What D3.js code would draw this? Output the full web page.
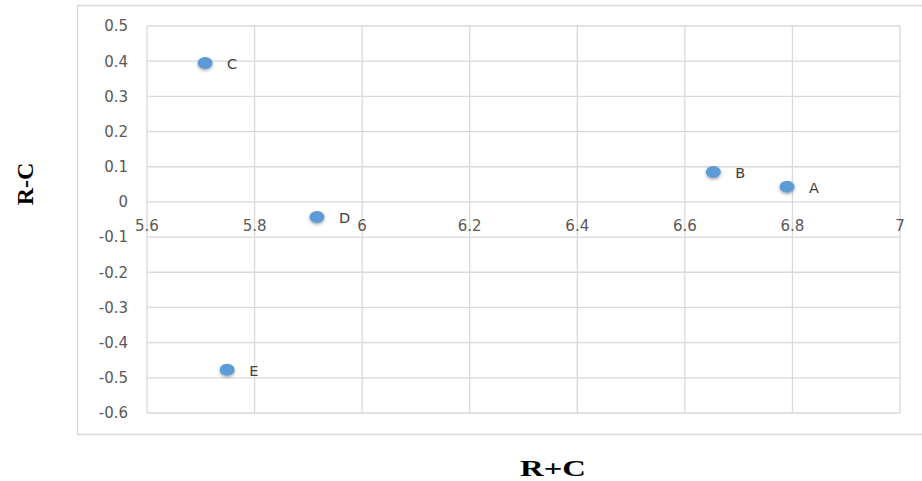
<!DOCTYPE html>
<html>
<head>
<meta charset="utf-8">
<script src="https://cdn.jsdelivr.net/npm/d3@7"></script>
<style>
  html, body { margin: 0; padding: 0; background: #fff; }
  svg { display: block; }
</style>
</head>
<body>
<svg id="chart"></svg>
<script>
const names = ['A', 'B', 'C', 'D', 'E'];
const rPlusC = [6.79, 6.653, 5.708, 5.916, 5.749];
const rMinusC = [0.043, 0.085, 0.395, -0.043, -0.477];
const xTicks = [5.6, 5.8, 6, 6.2, 6.4, 6.6, 6.8, 7];
const yTicks = [0.5, 0.4, 0.3, 0.2, 0.1, 0, -0.1, -0.2, -0.3, -0.4, -0.5, -0.6];

const W = 922, H = 481;
const svg = d3.select('#chart').attr('width', W).attr('height', H);

const x = d3.scaleLinear().domain([5.6, 7]).range([147, 900]);
const y = d3.scaleLinear().domain([-0.6, 0.5]).range([413, 26]);

const defs = svg.append('defs');
const shadow = defs.append('filter').attr('id', 'shadow')
  .attr('x', '-50%').attr('y', '-50%').attr('width', '200%').attr('height', '200%');
shadow.append('feDropShadow')
  .attr('dx', 0).attr('dy', 1.5).attr('stdDeviation', 1.6)
  .attr('flood-color', '#000').attr('flood-opacity', 0.35);

// chart frame
svg.append('rect')
  .attr('x', 77.5).attr('y', 5.5)
  .attr('width', 860).attr('height', 429)
  .attr('fill', 'none').attr('stroke', '#d9d9d9').attr('stroke-width', 1.5);

const grid = svg.append('g').attr('stroke', '#d9d9d9').attr('stroke-width', 1.3);
grid.selectAll('.vx').data(xTicks).enter().append('line')
  .attr('x1', d => x(d)).attr('x2', d => x(d))
  .attr('y1', y(0.5)).attr('y2', y(-0.6));
grid.selectAll('.hy').data(yTicks).enter().append('line')
  .attr('y1', d => y(d)).attr('y2', d => y(d))
  .attr('x1', x(5.6)).attr('x2', x(7));

// y tick labels
svg.append('g')
  .attr('font-family', 'DejaVu Sans, sans-serif')
  .attr('font-size', 15)
  .attr('fill', '#595959')
  .attr('text-anchor', 'end')
  .selectAll('text')
  .data(yTicks)
  .enter()
  .append('text')
  .attr('x', 128)
  .attr('y', d => y(d))
  .attr('dy', '0.36em')
  .text(d => String(d));

// x tick labels next to the zero line
svg.append('g')
  .attr('font-family', 'DejaVu Sans, sans-serif')
  .attr('font-size', 15)
  .attr('fill', '#595959')
  .attr('text-anchor', 'middle')
  .selectAll('text')
  .data(xTicks)
  .enter()
  .append('text')
  .attr('x', d => x(d))
  .attr('y', y(0) + 29)
  .text(d => String(d));

// points
const pts = names.map((n, i) => ({ name: n, x: rPlusC[i], y: rMinusC[i] }));
svg.append('g').selectAll('ellipse')
  .data(pts)
  .enter()
  .append('ellipse')
  .attr('cx', d => x(d.x))
  .attr('cy', d => y(d.y))
  .attr('rx', 7.5)
  .attr('ry', 6)
  .attr('fill', '#5b9bd5')
  .attr('filter', 'url(#shadow)');

svg.append('g')
  .attr('font-family', 'DejaVu Sans, sans-serif')
  .attr('font-size', 14.5)
  .attr('fill', '#404040')
  .selectAll('text')
  .data(pts)
  .enter()
  .append('text')
  .attr('x', d => x(d.x) + 22)
  .attr('y', d => y(d.y) + 1)
  .attr('dy', '0.36em')
  .text(d => d.name);

// axis titles
svg.append('text')
  .attr('x', 553).attr('y', 476)
  .attr('text-anchor', 'middle')
  .attr('font-family', 'Liberation Serif, Times New Roman, serif')
  .attr('font-weight', 'bold')
  .attr('font-size', 24)
  .attr('fill', '#000')
  .attr('textLength', 66)
  .attr('lengthAdjust', 'spacingAndGlyphs')
  .text('R+C');

svg.append('text')
  .attr('transform', 'translate(33,184) rotate(-90)')
  .attr('text-anchor', 'middle')
  .attr('font-family', 'Liberation Serif, Times New Roman, serif')
  .attr('font-weight', 'bold')
  .attr('font-size', 24)
  .attr('fill', '#000')
  .text('R-C');
</script>
</body>
</html>
